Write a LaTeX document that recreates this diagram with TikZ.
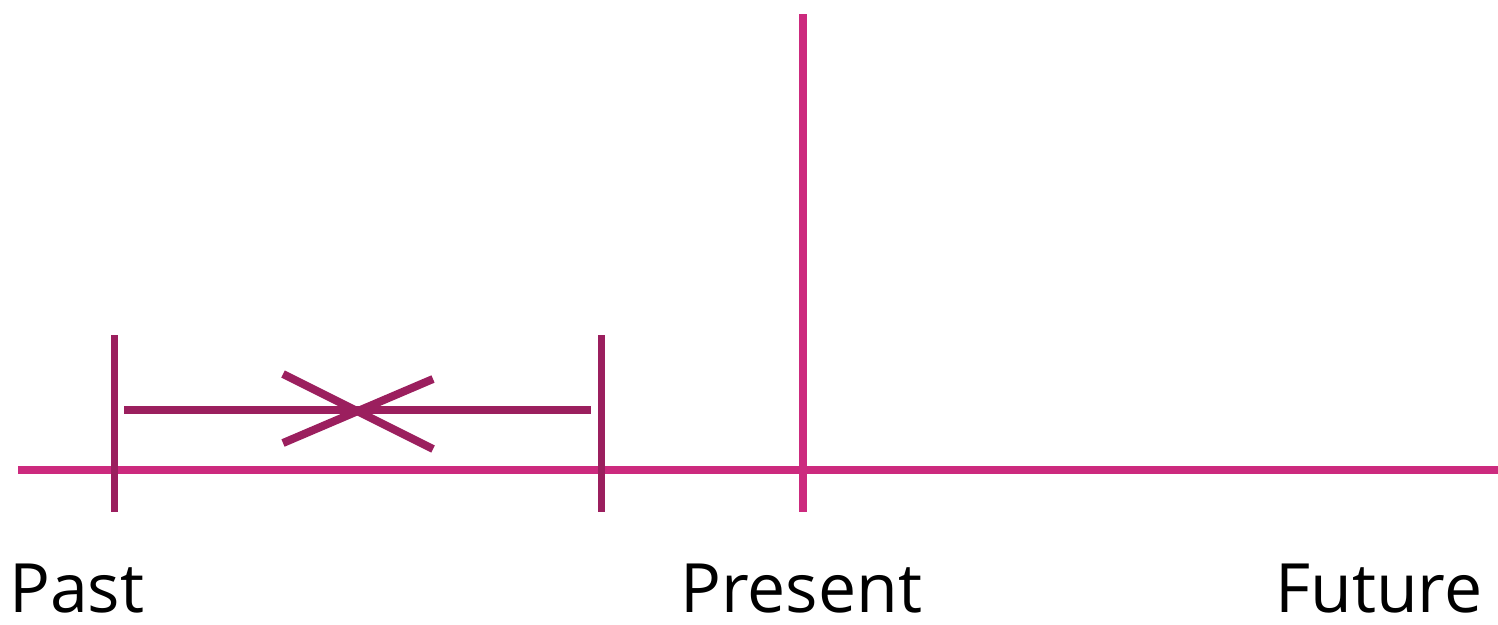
\documentclass[tikz,border=0pt]{standalone}
\usepackage{fontspec}
\setmainfont{Open Sans}
\usetikzlibrary{positioning}
\definecolor{timepink}{HTML}{CC2A7E}
\definecolor{spanplum}{HTML}{9B1F5E}
\tikzset{
  axisline/.style={line width=8pt,draw=timepink},
  tickline/.style={line width=7pt,draw=spanplum},
  spanline/.style={line width=8pt,draw=spanplum},
  crossline/.style={line width=8pt,draw=spanplum},
  lbl/.style={inner sep=0pt,text depth=0pt,anchor=base west,font=\fontsize{68}{74}\selectfont}
}
\begin{document}
\begin{tikzpicture}[x=1pt,y=-1pt]
\useasboundingbox (0,0) rectangle (1498,624);
% time axis
\coordinate (ax0) at (18,470);
\coordinate (ax1) at (1498,470);
\draw[axisline] (ax0) -- (ax1);
% present marker
\coordinate (now0) at (803,14);
\coordinate (now1) at (803,512);
\draw[axisline] (now0) -- (now1);
% interval bounds
\coordinate (lt0) at (114,335);
\coordinate (lt1) at (114,512);
\coordinate (rt0) at (601,335);
\coordinate (rt1) at (601,512);
\draw[tickline] (lt0) -- (lt1);
\draw[tickline] (rt0) -- (rt1);
% interval and cross
\coordinate (sp0) at (124,410);
\coordinate (sp1) at (591,410);
\draw[spanline] (sp0) -- (sp1);
\coordinate (cA) at (283,374);
\coordinate (cB) at (433,449);
\coordinate (cC) at (283,443);
\coordinate (cD) at (433,379);
\draw[crossline] (cA) -- (cB);
\draw[crossline] (cC) -- (cD);
% labels
\node[lbl] (past) at (9,612) {Past};
\node[lbl] (present) at (680,612) {Present};
\node[lbl] (future) at (1275,612) {Future};
\end{tikzpicture}
\end{document}
